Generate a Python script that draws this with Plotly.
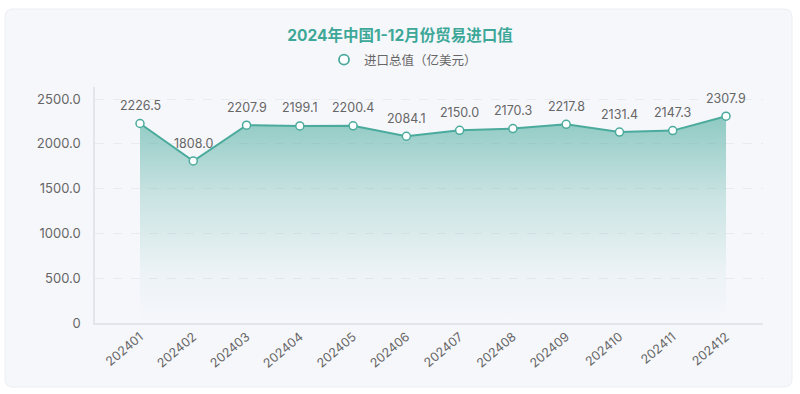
import plotly.graph_objects as go

months = ["202401", "202402", "202403", "202404", "202405", "202406",
          "202407", "202408", "202409", "202410", "202411", "202412"]
values = [2226.5, 1808.0, 2207.9, 2199.1, 2200.4, 2084.1,
          2150.0, 2170.3, 2217.8, 2131.4, 2147.3, 2307.9]
y_ticks = [0, 500, 1000, 1500, 2000, 2500]
y_tick_labels = ["0", "500.0", "1000.0", "1500.0", "2000.0", "2500.0"]
series_name = "进口总值（亿美元）"
title_text = "2024年中国1-12月份贸易进口值"

W, H = 800, 394
L, R, T, B = 95, 37, 87, 71
pw = W - L - R
ph = H - T - B

def px_x(p):
    return (p - L) / pw

def px_y(p):
    return (H - B - p) / ph

teal = "#4aab9d"
font = "Inter, Noto Sans CJK SC, sans-serif"
xs = list(range(len(months)))

fig = go.Figure()
fig.add_trace(go.Scatter(
    x=xs, y=values,
    mode="lines+markers",
    showlegend=False,
    line=dict(color=teal, width=2),
    marker=dict(size=8, color="white", line=dict(color=teal, width=1.5)),
    fill="tozeroy",
    fillgradient=dict(type="vertical",
                      colorscale=[[0, "rgba(74,171,157,0.0)"],
                                  [0.25, "rgba(74,171,157,0.06)"],
                                  [0.6, "rgba(74,171,157,0.25)"],
                                  [1, "rgba(74,171,157,0.6)"]]),
    cliponaxis=False,
    hoverinfo="x+y",
))
# legend entry (hollow circle only)
fig.add_trace(go.Scatter(
    x=[None], y=[None], mode="markers", name=series_name,
    marker=dict(size=10, color="white", line=dict(color=teal, width=1.8)),
))

annotations = [dict(x=x, y=v, xref="x", yref="y", text=f"{v:.1f}",
                    showarrow=False, yshift=18, yanchor="middle",
                    font=dict(size=12.5, color="#666666", family=font))
               for x, v in zip(xs, values)]

# card background
x0, x1, y0, y1, r = 5, 792, 9, 387, 8
path = (f"M {px_x(x0 + r)},{px_y(y0)} L {px_x(x1 - r)},{px_y(y0)} "
        f"Q {px_x(x1)},{px_y(y0)} {px_x(x1)},{px_y(y0 + r)} "
        f"L {px_x(x1)},{px_y(y1 - r)} Q {px_x(x1)},{px_y(y1)} {px_x(x1 - r)},{px_y(y1)} "
        f"L {px_x(x0 + r)},{px_y(y1)} Q {px_x(x0)},{px_y(y1)} {px_x(x0)},{px_y(y1 - r)} "
        f"L {px_x(x0)},{px_y(y0 + r)} Q {px_x(x0)},{px_y(y0)} {px_x(x0 + r)},{px_y(y0)} Z")

step = (726 - 140) / 11
fig.update_layout(
    template="none",
    width=W, height=H,
    margin=dict(l=L, r=R, t=T, b=B, autoexpand=False),
    paper_bgcolor="white",
    plot_bgcolor="rgba(0,0,0,0)",
    font=dict(family=font, color="#666666"),
    title=dict(text=f"<b>{title_text}</b>", x=0.5, xref="container",
               xanchor="center", y=1 - 36 / H, yref="container", yanchor="middle",
               font=dict(size=15.5, color="#3da898", family=font)),
    showlegend=True,
    legend=dict(orientation="h", x=px_x(403), xanchor="center", xref="paper",
                y=px_y(60), yanchor="middle", yref="paper",
                font=dict(size=12.5, color="#666666", family=font),
                bgcolor="rgba(0,0,0,0)"),
    annotations=annotations,
    shapes=[dict(type="path", path=path, xref="paper", yref="paper",
                 fillcolor="#f6f7fb", line=dict(color="#eceef3", width=1),
                 layer="below")],
    xaxis=dict(
        tickmode="array", tickvals=xs, ticktext=months,
        range=[(L - 140) / step, 11 + (763 - 726) / step],
        tickangle=-40, showgrid=False, zeroline=False, automargin=False,
        showline=True, linecolor="#e3e5ea", linewidth=1.5,
        ticks="", tickfont=dict(size=12.5, color="#666666"),
    ),
    yaxis=dict(
        tickmode="array", tickvals=y_ticks, ticktext=y_tick_labels,
        range=[0, 2500 * 236 / 224], automargin=False,
        showgrid=True, gridcolor="#e9ebf0", griddash="dash", gridwidth=1,
        zeroline=False, showline=True, linecolor="#e3e5ea", linewidth=1.5,
        ticks="", ticklabelstandoff=10, tickfont=dict(size=13, color="#666666"),
    ),
)

fig.write_html("out.html", config={"displayModeBar": False},
               post_script="document.body.style.margin='0';document.body.style.overflow='hidden';")
